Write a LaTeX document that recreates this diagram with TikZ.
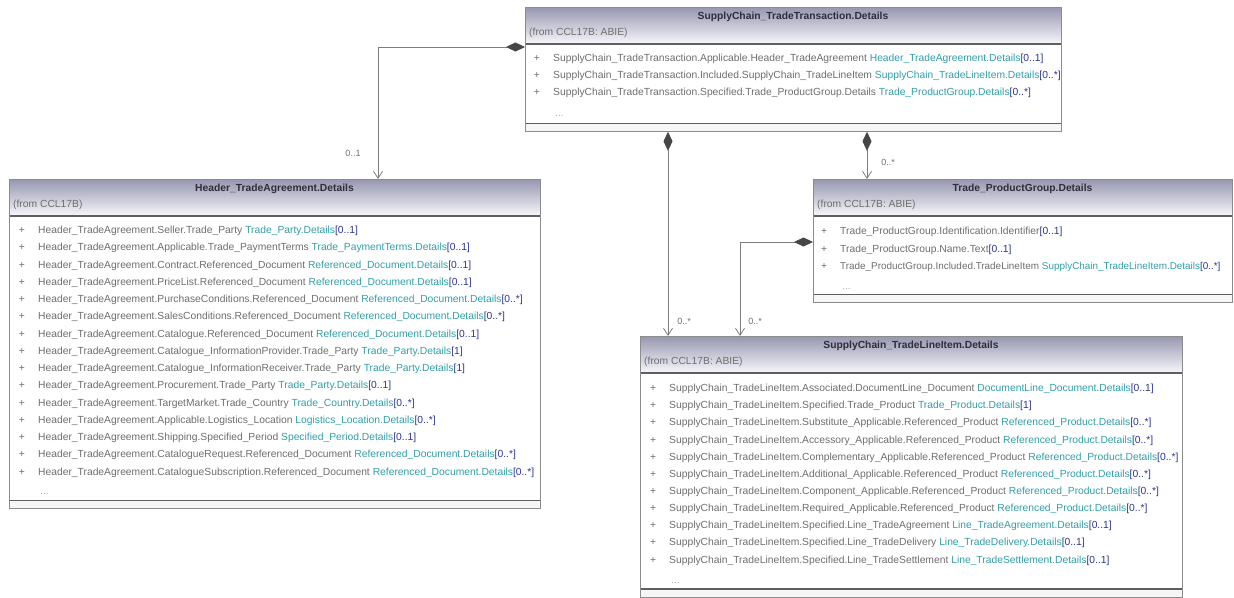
\documentclass[tikz,border=0pt]{standalone}
\usepackage{fontspec}
\setmainfont{Liberation Sans}
\usetikzlibrary{arrows.meta,calc}
\definecolor{hdtop}{RGB}{150,150,176}
\definecolor{hdbot}{RGB}{247,247,251}
\definecolor{boxline}{RGB}{140,140,140}
\definecolor{sepline}{RGB}{95,95,95}
\definecolor{attrgrey}{RGB}{110,110,110}
\definecolor{typeteal}{RGB}{50,158,168}
\definecolor{multblue}{RGB}{45,55,140}
\definecolor{titlecol}{RGB}{45,45,60}
\definecolor{conncol}{RGB}{125,125,125}
\definecolor{diacol}{RGB}{70,70,70}
\definecolor{dotgrey}{RGB}{175,175,175}
\newcommand{\umlfont}{\fontsize{10.3}{12}\selectfont}
\tikzset{
  umlbox/.style={draw=boxline, line width=0.8pt, fill=white, rectangle, inner sep=0pt, anchor=north west},
  umltitle/.style={font=\umlfont\bfseries, text=titlecol, inner sep=0pt, anchor=base},
  umlfrom/.style={font=\umlfont, text=attrgrey, inner sep=0pt, anchor=base west},
  umlattr/.style={font=\umlfont, text=attrgrey, inner sep=0pt, anchor=base west},
  umlplus/.style={font=\umlfont, text=attrgrey, inner sep=0pt, anchor=base},
  umldots/.style={font=\umlfont, text=dotgrey, inner sep=0pt, anchor=base west},
  sepl/.style={draw=sepline, line width=1.1pt},
  assoc/.style={draw=conncol, line width=0.8pt,
    {Diamond[length=19pt,width=9pt,fill=diacol,color=diacol]}-{Straight Barb[length=7pt,width=9pt,color=conncol]}},
  multlab/.style={font=\fontsize{9}{10}\selectfont, text=attrgrey, inner sep=0pt, anchor=center}
}
% name, x1, y1, x2, y2, title, from
\newcommand{\umlclass}[7]{%
  \node[umlbox, minimum width=#4-#2, minimum height=#5-#3] (#1) at (#2,#3) {};
  \shade[top color=hdtop, bottom color=hdbot] (#2,#3) rectangle (#4,#3+37);
  \fill[gray!7] (#2,#5-7.5) rectangle (#4,#5);
  \draw[sepl] (#2,#3+37) -- (#4,#3+37);
  \draw[sepl] (#2,#5-7.5) -- (#4,#5-7.5);
  \draw[draw=boxline, line width=0.8pt] (#1.north west) rectangle (#1.south east);
  \node[umltitle] (#1t) at ({(#2+#4)/2},#3+12.6) {#6};
  \node[umlfrom] (#1f) at (#2+4,#3+28.6) {#7};
}
% name, x, y, grey, teal, mult
\newcommand{\umlrow}[6]{%
  \node[umlplus] (#1p) at (#2-16,#3+3.6) {+};
  \node[umlattr] (#1) at (#2,#3+3.6) {#4\textcolor{typeteal}{#5}\textcolor{multblue}{#6}};
}
\begin{document}
\begin{tikzpicture}[x=1pt,y=-1pt]
\useasboundingbox (0,0) rectangle (1234,597);
\fill[white] (0,0) rectangle (1234,597);

% ---------- SupplyChain_TradeTransaction.Details
\umlclass{tt}{525}{7}{1061}{131}{SupplyChain\_TradeTransaction.Details}{(from CCL17B: ABIE)}
\umlrow{tta}{553}{58}{SupplyChain\_TradeTransaction.Applicable.Header\_TradeAgreement }{Header\_TradeAgreement.Details}{[0..1]}
\umlrow{ttb}{553}{75}{SupplyChain\_TradeTransaction.Included.SupplyChain\_TradeLineItem }{SupplyChain\_TradeLineItem.Details}{[0..*]}
\umlrow{ttc}{553}{92}{SupplyChain\_TradeTransaction.Specified.Trade\_ProductGroup.Details }{Trade\_ProductGroup.Details}{[0..*]}
\node[umldots] (ttd) at (555,116.6) {...};

% ---------- Header_TradeAgreement.Details
\umlclass{ha}{9}{179}{540}{508}{Header\_TradeAgreement.Details}{(from CCL17B)}
\umlrow{haa}{38}{230}{Header\_TradeAgreement.Seller.Trade\_Party }{Trade\_Party.Details}{[0..1]}
\umlrow{hab}{38}{247.25}{Header\_TradeAgreement.Applicable.Trade\_PaymentTerms }{Trade\_PaymentTerms.Details}{[0..1]}
\umlrow{hac}{38}{264.5}{Header\_TradeAgreement.Contract.Referenced\_Document }{Referenced\_Document.Details}{[0..1]}
\umlrow{had}{38}{281.75}{Header\_TradeAgreement.PriceList.Referenced\_Document }{Referenced\_Document.Details}{[0..1]}
\umlrow{hae}{38}{299}{Header\_TradeAgreement.PurchaseConditions.Referenced\_Document }{Referenced\_Document.Details}{[0..*]}
\umlrow{haf}{38}{316.25}{Header\_TradeAgreement.SalesConditions.Referenced\_Document }{Referenced\_Document.Details}{[0..*]}
\umlrow{hag}{38}{333.5}{Header\_TradeAgreement.Catalogue.Referenced\_Document }{Referenced\_Document.Details}{[0..1]}
\umlrow{hah}{38}{350.75}{Header\_TradeAgreement.Catalogue\_InformationProvider.Trade\_Party }{Trade\_Party.Details}{[1]}
\umlrow{hai}{38}{368}{Header\_TradeAgreement.Catalogue\_InformationReceiver.Trade\_Party }{Trade\_Party.Details}{[1]}
\umlrow{haj}{38}{385.25}{Header\_TradeAgreement.Procurement.Trade\_Party }{Trade\_Party.Details}{[0..1]}
\umlrow{hak}{38}{402.5}{Header\_TradeAgreement.TargetMarket.Trade\_Country }{Trade\_Country.Details}{[0..*]}
\umlrow{hal}{38}{419.75}{Header\_TradeAgreement.Applicable.Logistics\_Location }{Logistics\_Location.Details}{[0..*]}
\umlrow{ham}{38}{437}{Header\_TradeAgreement.Shipping.Specified\_Period }{Specified\_Period.Details}{[0..1]}
\umlrow{han}{38}{454.25}{Header\_TradeAgreement.CatalogueRequest.Referenced\_Document }{Referenced\_Document.Details}{[0..*]}
\umlrow{hao}{38}{471.5}{Header\_TradeAgreement.CatalogueSubscription.Referenced\_Document }{Referenced\_Document.Details}{[0..*]}
\node[umldots] (hap) at (40,494.6) {...};

% ---------- Trade_ProductGroup.Details
\umlclass{pg}{813}{179}{1232}{302}{Trade\_ProductGroup.Details}{(from CCL17B: ABIE)}
\umlrow{pga}{840}{231}{Trade\_ProductGroup.Identification.Identifier}{}{[0..1]}
\umlrow{pgb}{840}{248.5}{Trade\_ProductGroup.Name.Text}{}{[0..1]}
\node[umlplus] (pgcp) at (824,269.6) {+};
\node[umlattr, font=\fontsize{9.9}{12}\selectfont] (pgc) at (840,269.6) {Trade\_ProductGroup.Included.TradeLineItem \textcolor{typeteal}{SupplyChain\_TradeLineItem.Details}\textcolor{multblue}{[0..*]}};
\node[umldots] (pgd) at (842,289.6) {...};

% ---------- SupplyChain_TradeLineItem.Details
\umlclass{li}{640}{336}{1182}{596.5}{SupplyChain\_TradeLineItem.Details}{(from CCL17B: ABIE)}
\umlrow{lia}{669}{388}{SupplyChain\_TradeLineItem.Associated.DocumentLine\_Document }{DocumentLine\_Document.Details}{[0..1]}
\umlrow{lib}{669}{405.15}{SupplyChain\_TradeLineItem.Specified.Trade\_Product }{Trade\_Product.Details}{[1]}
\umlrow{lic}{669}{422.3}{SupplyChain\_TradeLineItem.Substitute\_Applicable.Referenced\_Product }{Referenced\_Product.Details}{[0..*]}
\umlrow{lid}{669}{439.45}{SupplyChain\_TradeLineItem.Accessory\_Applicable.Referenced\_Product }{Referenced\_Product.Details}{[0..*]}
\umlrow{lie}{669}{456.6}{SupplyChain\_TradeLineItem.Complementary\_Applicable.Referenced\_Product }{Referenced\_Product.Details}{[0..*]}
\umlrow{lif}{669}{473.75}{SupplyChain\_TradeLineItem.Additional\_Applicable.Referenced\_Product }{Referenced\_Product.Details}{[0..*]}
\umlrow{lig}{669}{490.9}{SupplyChain\_TradeLineItem.Component\_Applicable.Referenced\_Product }{Referenced\_Product.Details}{[0..*]}
\umlrow{lih}{669}{508.05}{SupplyChain\_TradeLineItem.Required\_Applicable.Referenced\_Product }{Referenced\_Product.Details}{[0..*]}
\umlrow{lii}{669}{525.2}{SupplyChain\_TradeLineItem.Specified.Line\_TradeAgreement }{Line\_TradeAgreement.Details}{[0..1]}
\umlrow{lij}{669}{542.35}{SupplyChain\_TradeLineItem.Specified.Line\_TradeDelivery }{Line\_TradeDelivery.Details}{[0..1]}
\umlrow{lik}{669}{559.5}{SupplyChain\_TradeLineItem.Specified.Line\_TradeSettlement }{Line\_TradeSettlement.Details}{[0..1]}
\node[umldots] (lil) at (671,583.6) {...};

% ---------- connectors
\draw[assoc] ($(tt.north west)+(0,40)$) -| ($(ha.north west)+(369,0)$);
\draw[assoc] ($(tt.south west)+(143,0)$) -- ($(li.north west)+(28,0)$);
\draw[assoc] ($(tt.south west)+(342,0)$) -- ($(pg.north west)+(54,0)$);
\draw[assoc] ($(pg.north west)+(0,63)$) -| ($(li.north west)+(100,0)$);

\node[multlab] (m1) at (353,153) {0..1};
\node[multlab] (m2) at (888,162) {0..*};
\node[multlab] (m3) at (684,321) {0..*};
\node[multlab] (m4) at (755,321) {0..*};
\end{tikzpicture}
\end{document}
